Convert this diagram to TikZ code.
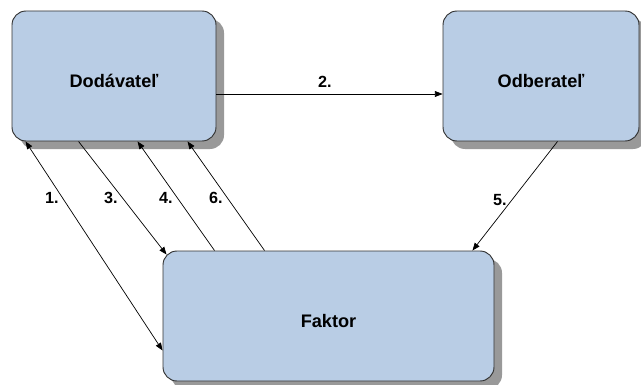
\documentclass[tikz,border=0pt]{standalone}
\usepackage{fontspec}
\setmainfont{Liberation Sans}
\usetikzlibrary{arrows.meta, shadows}
\definecolor{boxblue}{RGB}{185,205,229}
\definecolor{boxline}{RGB}{50,50,50}

\begin{document}
\begin{tikzpicture}[
  every node/.style={font=\fontsize{15.5}{18}\selectfont\bfseries},
  party/.style={rectangle, rounded corners=0.42cm, draw=boxline, line width=0.8pt, fill=boxblue,
    minimum height=3.9cm, text height=0.69cm, text depth=0cm,
    drop shadow={shadow xshift=0.24cm, shadow yshift=-0.24cm, fill=black!40, opacity=1}},
  flow/.style={-{Triangle[length=6.5pt,width=5pt]}, line width=0.6pt},
  both/.style={{Triangle[length=6.5pt,width=5pt]}-{Triangle[length=6.5pt,width=5pt]}, line width=0.6pt},
  num/.style={font=\fontsize{13.8}{16}\selectfont\bfseries, inner sep=1pt},
]
  \useasboundingbox (0,0) rectangle (19.23,-11.55);

  \node[party, minimum width=6.12cm] (dod) at (3.42,-2.28) {Dodávateľ};
  \node[party, minimum width=5.88cm] (odb) at (16.23,-2.28) {Odberateľ};
  \node[party, minimum width=9.93cm] (fak) at (9.855,-9.48) {Faktor};

  \draw[flow] ([yshift=-0.54cm]dod.east) -- node[num, pos=0.48, above=4pt]{2.} ([yshift=-0.54cm]odb.west);
  \draw[both] ([xshift=0.42cm]dod.south west) -- node[num, pos=0.27, left=2pt]{1.} ([yshift=0.93cm]fak.south west);
  \draw[flow] ([xshift=2.01cm]dod.south west) -- node[num, pos=0.5, left=3pt]{3.} ([xshift=0.12cm,yshift=-0.12cm]fak.north west);
  \draw[flow] ([xshift=1.56cm]fak.north west) -- node[num, pos=0.48, left=3pt]{4.} ([xshift=3.78cm]dod.south west);
  \draw[flow] ([xshift=3.06cm]fak.north west) -- node[num, pos=0.48, left=3pt]{6.} ([xshift=5.28cm]dod.south west);
  \draw[flow] ([xshift=3.45cm]odb.south west) -- node[num, pos=0.54, left=3pt]{5.} ([xshift=-0.66cm]fak.north east);
\end{tikzpicture}
\end{document}
